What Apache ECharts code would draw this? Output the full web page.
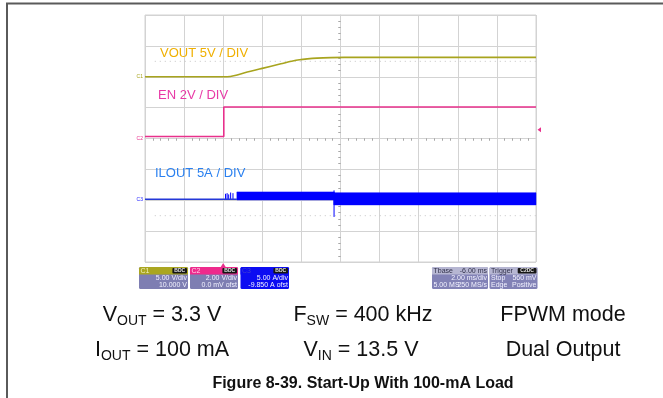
<!DOCTYPE html>
<html>
<head>
<meta charset="utf-8">
<script src="https://cdn.jsdelivr.net/npm/echarts@6/dist/echarts.min.js"></script>
<style>
html,body{margin:0;padding:0;background:#fff;}
#c{width:663px;height:398px;}
</style>
</head>
<body>
<div id="c"></div>
<script>
// Time base: 2 ms/div, 10 divisions, trigger at t = 0
const timePerDiv = 2;
const timeStart = -4;

// Channel settings (per-division scale and offset)
const channelNames = ['C1', 'C2', 'C3'];
const channelPerDiv = [5, 2, 5];
const channelOffset = [10, 0, -9.85];
const channelColors = ['#a8a41e', '#e8308c', '#1a1aff'];

// VOUT (V) vs time (ms)
const voutTrace = [[-4, 0], [0.2, 0], [0.6, 0.2], [1.1, 0.65], [2.0, 1.36], [2.9, 2.05], [3.5, 2.5],
  [3.9, 2.75], [4.3, 2.9], [4.8, 3.02], [5.5, 3.1], [6.2, 3.13], [16, 3.13]];

// EN (V) vs time (ms)
const enTrace = [[-4, 0.13], [0.03, 0.13], [0.03, 2.04], [16, 2.04]];

// ILOUT (A): idle baseline, switching envelope [t, low, high], isolated spikes [t, low, high]
const ilBaseline = [[-4, 0], [0.7, 0]];
const ilBand = [[0.7, -0.1, 1.2], [5.67, -0.1, 1.2], [5.67, -0.9, 1.07], [16, -0.9, 1.07]];
const ilSpikes = [[0.12, 0, 0.9], [0.2, 0, 1.0], [0.28, 0, 0.8], [0.38, 0, 1.1], [0.5, 0, 1.0], [5.67, -2.85, 1.45]];

// Trigger
const triggerLevel = 0.56; // V on C2

const traceLabels = [
  {text: 'VOUT 5V / DIV', color: '#f0b000', x: 160, y: 53},
  {text: 'EN 2V / DIV', color: '#e83aa6', x: 158, y: 95.5},
  {text: 'ILOUT 5A / DIV', color: '#2a80f0', x: 155, y: 173}
];

const readouts = [
  {x: 139, w: 49, head: 'C1', headColor: '#aaa620', headText: '#f0f0c0', badge: 'BDC', body: '#7e7eb2',
    lines: [['', '5.00 V/div'], ['', '10.000 V']]},
  {x: 190, w: 48, head: 'C2', headColor: '#ee2a8c', headText: '#ffd0e8', badge: 'BDC', body: '#7e7eb2',
    lines: [['', '2.00 V/div'], ['', '0.0 mV ofst']]},
  {x: 240.5, w: 48.5, head: 'C3', headColor: '#0c0cf2', headText: '#4040d0', badge: 'BDC', body: '#0c0cf2',
    lines: [['', '5.00 A/div'], ['', '-9.850 A ofst']]},
  {x: 432, w: 56, head: 'Tbase', headRight: '-6.00 ms', headColor: '#b6b6d2', headText: '#30304a', body: '#8282b6',
    lines: [['', '2.00 ms/div'], ['5.00 MS', '250 MS/s']]},
  {x: 489.5, w: 48, head: 'Trigger', badge: 'C2DC', headColor: '#b6b6d2', headText: '#30304a', body: '#8282b6',
    lines: [['Stop', '560 mV'], ['Edge', 'Positive']]}
];

const captionRows = [
  [{main: 'V', sub: 'OUT', rest: ' = 3.3 V', cx: 162}, {main: 'F', sub: 'SW', rest: ' = 400 kHz', cx: 363}, {main: 'FPWM mode', sub: '', rest: '', cx: 563}],
  [{main: 'I', sub: 'OUT', rest: ' = 100 mA', cx: 162}, {main: 'V', sub: 'IN', rest: ' = 13.5 V', cx: 361}, {main: 'Dual Output', sub: '', rest: '', cx: 563}]
];
const captionY = [315, 350];
const figureTitle = 'Figure 8-39. Start-Up With 100-mA Load';

const chart = echarts.init(document.getElementById('c'), null, {renderer: 'canvas'});

const GRID = '#d3d3d3';
const TICK = '#a8a8a8';
const FONT = '"Liberation Sans", Arial, sans-serif';

function divAxis(extentHalf, inside, withSplit) {
  return {
    type: 'value', min: -extentHalf, max: extentHalf, interval: 1,
    axisLine: {show: withSplit, onZero: true, onZeroAxisIndex: 0, lineStyle: {color: GRID, width: 1}},
    axisTick: {show: false, inside: inside},
    minorTick: {show: true, splitNumber: 5, length: 2, lineStyle: {color: TICK, width: 1}},
    axisLabel: {show: false},
    splitLine: {show: withSplit, lineStyle: {color: GRID, width: 1}},
    minorSplitLine: {show: false}
  };
}

const chanAxes = channelPerDiv.map((pd, i) => ({
  type: 'value', show: false,
  min: -4 * pd - channelOffset[i], max: 4 * pd - channelOffset[i],
  splitLine: {show: false}
}));

function bandItem(params, api) {
  const i = params.dataIndex;
  if (i >= ilBand.length - 1) return null;
  const a = ilBand[i], b = ilBand[i + 1];
  return {
    type: 'polygon',
    shape: {points: [api.coord([a[0], a[1]]), api.coord([b[0], b[1]]), api.coord([b[0], b[2]]), api.coord([a[0], a[2]])]},
    style: {fill: '#0000ff', stroke: '#0000ff', lineWidth: 0.5}
  };
}

function spikeItem(params, api) {
  const s = ilSpikes[params.dataIndex];
  const p0 = api.coord([s[0], s[1]]), p1 = api.coord([s[0], s[2]]);
  return {type: 'line', shape: {x1: p0[0], y1: p0[1], x2: p1[0], y2: p1[1]}, style: {stroke: '#0000ff', lineWidth: 1}};
}

chart.setOption({
  animation: false,
  backgroundColor: '#fff',
  grid: {left: 145, top: 15, width: 391, height: 247, show: true, borderColor: GRID, borderWidth: 1, outerBoundsMode: 'none'},
  xAxis: [
    divAxis(5, false, true),
    divAxis(5, true, false),
    {type: 'value', show: false, min: timeStart, max: timeStart + 10 * timePerDiv, splitLine: {show: false}}
  ],
  yAxis: [
    divAxis(4, false, true),
    divAxis(4, true, false)
  ].concat(chanAxes),
  series: [
    {type: 'line', xAxisIndex: 2, yAxisIndex: 2, data: voutTrace, smooth: 0.3, showSymbol: false,
      lineStyle: {color: channelColors[0], width: 1.6}},
    {type: 'line', xAxisIndex: 2, yAxisIndex: 3, data: enTrace, showSymbol: false,
      lineStyle: {color: channelColors[1], width: 1.6}},
    {type: 'line', xAxisIndex: 2, yAxisIndex: 4, data: ilBaseline, showSymbol: false,
      lineStyle: {color: '#2438d8', width: 1.6}},
    {type: 'custom', xAxisIndex: 2, yAxisIndex: 4, data: ilBand, renderItem: bandItem, encode: {x: 0, y: [1, 2]}},
    {type: 'custom', xAxisIndex: 2, yAxisIndex: 4, data: ilSpikes, renderItem: spikeItem, encode: {x: 0, y: [1, 2]}}
  ]
});

// Decorations placed through the axes
const g = [];

// Reference dotted lines at +/- 2.5 div
[2.5, -2.5].forEach(d => {
  const a = chart.convertToPixel({xAxisIndex: 0, yAxisIndex: 0}, [-4.75, d]);
  const b = chart.convertToPixel({xAxisIndex: 0, yAxisIndex: 0}, [5, d]);
  g.push({type: 'line', shape: {x1: a[0], y1: a[1], x2: b[0], y2: b[1]},
    style: {stroke: '#c4c4c4', lineWidth: 1, lineDash: [1, 4]}, silent: true});
});

// Channel ground markers
channelNames.forEach((n, i) => {
  const p = chart.convertToPixel({xAxisIndex: 2, yAxisIndex: 2 + i}, [timeStart, 0]);
  g.push({type: 'text', x: p[0] - 2, y: p[1], style: {text: n, fill: channelColors[i], font: '5px ' + FONT, align: 'right', verticalAlign: 'middle'}});
});

// Trigger position and level markers
const tp = chart.convertToPixel({xAxisIndex: 2, yAxisIndex: 3}, [0, -8]);
g.push({type: 'polygon', shape: {points: [[tp[0], tp[1] + 1], [tp[0] - 2.5, tp[1] + 5], [tp[0] + 2.5, tp[1] + 5]]}, style: {fill: '#e8308c'}});
const tl = chart.convertToPixel({xAxisIndex: 2, yAxisIndex: 3}, [16, triggerLevel]);
g.push({type: 'polygon', shape: {points: [[tl[0] + 1.5, tl[1]], [tl[0] + 5, tl[1] - 2.5], [tl[0] + 5, tl[1] + 2.5]]}, style: {fill: '#e8308c'}});

// Trace captions
traceLabels.forEach(t => g.push({type: 'text', x: t.x, y: t.y,
  style: {text: t.text, fill: t.color, font: '13px ' + FONT, verticalAlign: 'middle'}}));

// Readout boxes
const boxY = 267, boxH = 22, headH = 7.5;
readouts.forEach(r => {
  g.push({type: 'rect', shape: {x: r.x, y: boxY, width: r.w, height: boxH, r: 1.5}, style: {fill: r.body}});
  g.push({type: 'rect', shape: {x: r.x, y: boxY, width: r.w, height: headH, r: [1.5, 1.5, 0, 0]}, style: {fill: r.headColor}});
  g.push({type: 'text', x: r.x + 1.5, y: boxY + headH / 2 + 0.3, style: {text: r.head, fill: r.headText, font: '7px ' + FONT, verticalAlign: 'middle'}});
  if (r.badge) {
    const bw = r.badge.length * 4.2 + 2;
    g.push({type: 'rect', shape: {x: r.x + r.w - bw - 1, y: boxY + 1, width: bw, height: headH - 2, r: 1}, style: {fill: '#151515'}});
    g.push({type: 'text', x: r.x + r.w - 1 - bw / 2, y: boxY + headH / 2 + 0.3, style: {text: r.badge, fill: '#e8e8e8', font: 'bold 5px ' + FONT, align: 'center', verticalAlign: 'middle'}});
  }
  if (r.headRight) {
    g.push({type: 'text', x: r.x + r.w - 1, y: boxY + headH / 2 + 0.3, style: {text: r.headRight, fill: r.headText, font: '7px ' + FONT, align: 'right', verticalAlign: 'middle'}});
  }
  r.lines.forEach((ln, k) => {
    const y = boxY + headH + 3.6 + k * 7;
    if (ln[0]) g.push({type: 'text', x: r.x + 1.5, y: y, style: {text: ln[0], fill: '#f2f2ff', font: '7px ' + FONT, verticalAlign: 'middle'}});
    g.push({type: 'text', x: r.x + r.w - 1, y: y, style: {text: ln[1], fill: '#f2f2ff', font: '7px ' + FONT, align: 'right', verticalAlign: 'middle'}});
  });
});

// Frame
g.push({type: 'polyline', shape: {points: [[7, 398], [7, 3.5], [663, 3.5]]}, style: {stroke: '#5a5a5a', lineWidth: 2, fill: null}});

// Caption rows with subscripts
captionRows.forEach((row, ri) => {
  row.forEach(c => {
    const txt = c.sub ? '{m|' + c.main + '}{s|' + c.sub + '}{m|' + c.rest + '}' : '{m|' + c.main + '}';
    g.push({type: 'text', x: c.cx, y: captionY[ri], style: {
      text: txt, align: 'center', verticalAlign: 'middle', fill: '#111',
      rich: {
        m: {fontSize: 21.5, fontFamily: FONT, lineHeight: 26, fill: '#111'},
        s: {fontSize: 14, fontFamily: FONT, lineHeight: 11, verticalAlign: 'bottom', fill: '#111'}
      }
    }});
  });
});
g.push({type: 'text', x: 363, y: 384, style: {text: figureTitle, fill: '#111', font: 'bold 16px ' + FONT, align: 'center', verticalAlign: 'middle'}});

chart.setOption({graphic: {elements: g}});
</script>
</body>
</html>
